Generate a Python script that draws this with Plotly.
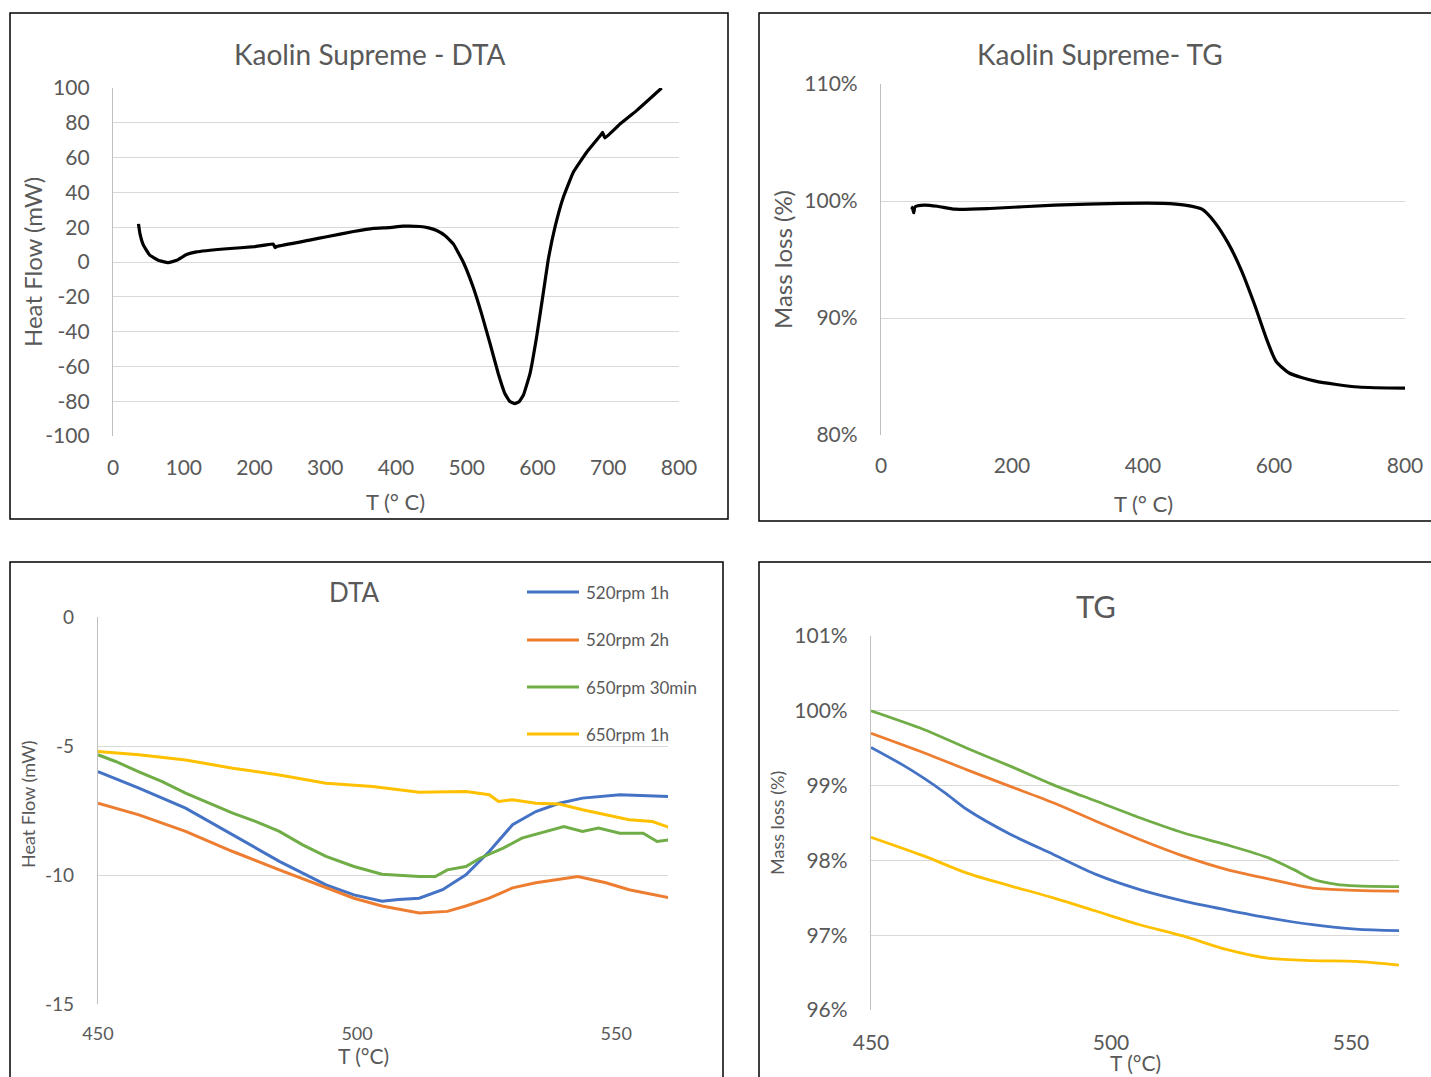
import plotly.graph_objects as go

W, H = 1431, 1077

# ---------------- Panel 1: Kaolin Supreme - DTA ----------------
dta_T = [36, 38, 43, 52, 64, 78, 90, 104, 118, 161, 200, 226.6, 229, 232, 278, 302, 340, 368, 390,
         410, 434, 446, 457.5, 470, 481, 495, 509, 521, 533, 544.6, 554, 561, 568, 574, 580, 589.4,
         598.8, 608, 615, 624.7, 636.5, 650.6, 669.5, 690.7, 692, 695.4, 716.6, 740, 775.5]
dta_HF = [21.9, 16.5, 9.7, 3.9, 1.0, -0.4, 1.0, 4.3, 5.8, 7.6, 8.8, 10.3, 8.3, 9.0, 12.6, 14.5, 17.5,
          19.3, 19.8, 20.6, 20.4, 19.6, 18.1, 15.0, 10.4, 0.0, -14.4, -29.8, -47.0, -64.2, -75.7, -80.2,
          -81.4, -80.3, -76.6, -64.2, -43.0, -18.3, 0.9, 20.0, 37.2, 51.6, 63.1, 73.6, 74.5, 71.3,
          79.3, 87.0, 100.0]

# ---------------- Panel 2: Kaolin Supreme - TG ----------------
tg_T = [46, 48, 50, 52, 66, 86, 113, 166, 265, 365, 431, 464, 490, 510, 530, 550, 570, 590, 603, 623,
        663, 729, 802]
tg_M = [99.5, 99.4, 99.0, 99.5, 99.65, 99.55, 99.3, 99.36, 99.65, 99.8, 99.8, 99.65, 99.3, 98.15,
        96.4, 94.1, 91.2, 88.0, 86.3, 85.3, 84.6, 84.1, 84.0]

# ---------------- Panel 3: DTA (zoom) ----------------
series_names = ["520rpm 1h", "520rpm 2h", "650rpm 30min", "650rpm 1h"]
series_colors = ["#4472C4", "#ED7D31", "#70AD47", "#FFC000"]

z_T_blue = [450, 457.9, 466.9, 476, 485, 494, 499.4, 504.8, 508, 512, 516.5, 521, 525.5, 530, 534.5,
            539, 543.5, 550.7, 555, 560.6]
z_HF_blue = [-5.99, -6.63, -7.41, -8.44, -9.47, -10.38, -10.77, -11.02, -10.95, -10.9, -10.57, -9.99,
             -9.09, -8.05, -7.54, -7.22, -7.02, -6.89, -6.92, -6.96]

z_T_orange = [450, 457.9, 466.9, 476, 485, 494, 499.4, 504.8, 512, 517.4, 521, 525.5, 530, 534.5, 539,
              542.6, 548, 552.5, 560.6]
z_HF_orange = [-7.22, -7.67, -8.31, -9.09, -9.8, -10.5, -10.9, -11.2, -11.47, -11.41, -11.2, -10.9,
               -10.5, -10.3, -10.18, -10.06, -10.3, -10.57, -10.9]

z_T_green = [450, 453.4, 457.9, 462.4, 466.9, 471.4, 476, 480.5, 485, 489.5, 494, 499.4, 504.8, 512,
             515.1, 517.4, 521, 523.7, 528.2, 531.8, 535.4, 539.9, 543.5, 546.6, 550.7, 555.2, 557.9,
             560.6]
z_HF_green = [-5.34, -5.6, -6.0, -6.38, -6.83, -7.22, -7.6, -7.93, -8.31, -8.83, -9.28, -9.67, -9.97,
              -10.06, -10.06, -9.8, -9.67, -9.35, -8.96, -8.57, -8.38, -8.12, -8.31, -8.18, -8.38,
              -8.38, -8.7, -8.63]

z_T_yellow = [450, 457.9, 466.9, 476, 485, 494, 503, 512, 521, 525.5, 527.3, 530, 534.5, 539, 543.5,
              548, 552.5, 557, 560.6]
z_HF_yellow = [-5.21, -5.34, -5.54, -5.86, -6.12, -6.44, -6.57, -6.79, -6.76, -6.89, -7.15, -7.08,
               -7.22, -7.25, -7.47, -7.67, -7.86, -7.93, -8.18]

# ---------------- Panel 4: TG (zoom) ----------------
g_T = [450, 461, 470, 479, 488, 497, 506, 515, 524, 533, 538, 542, 547, 551, 560]
g_green = [100.0, 99.75, 99.5, 99.26, 99.01, 98.79, 98.57, 98.37, 98.21, 98.03, 97.88, 97.75, 97.68,
           97.66, 97.65]
o_T = [450, 461, 470, 479, 488, 497, 506, 515, 524, 533, 542, 551, 560]
g_orange = [99.70, 99.44, 99.21, 98.99, 98.77, 98.52, 98.28, 98.06, 97.88, 97.75, 97.63, 97.6, 97.59]
b_T = [450, 456.5, 461, 465.5, 470, 479, 488, 497, 506, 515, 524, 533, 542, 551, 560]
g_blue = [99.51, 99.28, 99.10, 98.90, 98.68, 98.35, 98.08, 97.81, 97.61, 97.46, 97.34, 97.23, 97.14,
          97.08, 97.06]
y_T = [450, 461, 470, 479, 488, 497, 506, 515, 524, 533, 542, 551, 560]
g_yellow = [98.31, 98.06, 97.83, 97.66, 97.5, 97.32, 97.14, 96.99, 96.81, 96.69, 96.66, 96.65, 96.6]

FONT = "Lato"
GRAY = "#595959"
GRID = "#d9d9d9"
AXL = "#bfbfbf"


def px_x(px):
    return px / W


def px_y(py):
    return 1 - py / H


fig = go.Figure()

fig.add_trace(go.Scatter(x=dta_T, y=dta_HF, mode="lines",
                         line=dict(color="black", width=3.2, shape="spline", smoothing=0.3),
                         xaxis="x", yaxis="y", showlegend=False))
fig.add_trace(go.Scatter(x=tg_T, y=tg_M, mode="lines",
                         line=dict(color="black", width=3.2, shape="spline", smoothing=0.6),
                         xaxis="x2", yaxis="y2", showlegend=False))

dta_sets = [(z_T_blue, z_HF_blue), (z_T_orange, z_HF_orange), (z_T_green, z_HF_green), (z_T_yellow, z_HF_yellow)]
for (xs, ys), name, col in zip(dta_sets, series_names, series_colors):
    fig.add_trace(go.Scatter(x=xs, y=ys, mode="lines", name=name,
                             line=dict(color=col, width=3), xaxis="x3", yaxis="y3", showlegend=False))

tg_sets = [(b_T, g_blue), (o_T, g_orange), (g_T, g_green), (y_T, g_yellow)]
for (xs, ys), name, col in zip(tg_sets, series_names, series_colors):
    fig.add_trace(go.Scatter(x=xs, y=ys, mode="lines", name=name,
                             line=dict(color=col, width=2.8, shape="spline", smoothing=0.8),
                             xaxis="x4", yaxis="y4", showlegend=False))


def xax(domain, rng, tickvals, size, anchor, standoff):
    return dict(domain=domain, range=rng, tickvals=tickvals, ticktext=[str(v) for v in tickvals],
                showgrid=False, zeroline=False, showline=False, ticks="",
                tickfont=dict(family=FONT, size=size, color=GRAY), anchor=anchor,
                ticklabelstandoff=standoff, automargin=False)


def yax(domain, rng, tickvals, ticktext, size, anchor, standoff):
    return dict(domain=domain, range=rng, tickvals=tickvals, ticktext=ticktext,
                showgrid=True, gridcolor=GRID, gridwidth=1.3, zeroline=False,
                showline=True, linecolor=AXL, linewidth=1.3, ticks="",
                tickfont=dict(family=FONT, size=size, color=GRAY), anchor=anchor,
                ticklabelstandoff=standoff, automargin=False)


y1_vals = list(range(-100, 101, 20))
y3_vals = [0, -5, -10, -15]
y2_vals = [80, 90, 100, 110]
y4_vals = [96, 97, 98, 99, 100, 101]

fig.update_layout(
    width=W, height=H, margin=dict(l=0, r=0, t=0, b=0, pad=0, autoexpand=False),
    paper_bgcolor="white", plot_bgcolor="white", showlegend=False,
    xaxis=xax([px_x(113), px_x(679)], [0, 800], list(range(0, 801, 100)), 21, "y", 17),
    yaxis=yax([px_y(436), px_y(88)], [-100, 100], y1_vals, [str(v) for v in y1_vals], 21, "x", 18),
    xaxis2=xax([px_x(881), px_x(1405)], [0, 800], [0, 200, 400, 600, 800], 21, "y2", 16),
    yaxis2=yax([px_y(435), px_y(84)], [80, 110], y2_vals, [f"{v}%" for v in y2_vals], 21, "x2", 18),
    xaxis3=xax([px_x(98), px_x(668)], [450, 560], [450, 500, 550], 18, "y3", 17),
    yaxis3=yax([px_y(1004), px_y(617)], [-15, 0], y3_vals, [str(v) for v in y3_vals], 19, "x3", 19),
    xaxis4=xax([px_x(871), px_x(1399)], [450, 560], [450, 500, 550], 21, "y4", 18),
    yaxis4=yax([px_y(1010), px_y(636)], [96, 101], y4_vals, [f"{v}%" for v in y4_vals], 21, "x4", 18),
)

annos = [
    ("Kaolin Supreme - DTA", 369, 54, 28, 0),
    ("Kaolin Supreme- TG", 1100, 54, 28, 0),
    ("DTA", 354, 592, 26, 0),
    ("TG", 1096, 606, 31, 0),
    ("T (° C)", 395, 501, 22, 0),
    ("T (° C)", 1143, 503, 22, 0),
    ("T (°C)", 364, 1055, 21, 0),
    ("T (°C)", 1135, 1062, 21, 0),
    ("Heat Flow (mW)", 32, 262, 24, -90),
    ("Mass loss (%)", 782, 260, 24, -90),
    ("Heat Flow (mW)", 28, 804, 18, -90),
    ("Mass loss (%)", 777, 823, 18, -90),
]
for text, x, y, size, ang in annos:
    fig.add_annotation(text=text, x=px_x(x), y=px_y(y), xref="paper", yref="paper",
                       xanchor="center", yanchor="middle", showarrow=False, textangle=ang,
                       font=dict(family=FONT, size=size, color=GRAY))

# legend of the DTA zoom panel
legend_y = [592, 640, 687, 734]
for name, col, ly in zip(series_names, series_colors, legend_y):
    fig.add_shape(type="line", xref="paper", yref="paper", x0=px_x(527), x1=px_x(579),
                  y0=px_y(ly), y1=px_y(ly), line=dict(color=col, width=3.2))
    fig.add_annotation(text=name, x=px_x(584), y=px_y(ly), xref="paper", yref="paper",
                       xanchor="left", yanchor="middle", showarrow=False,
                       font=dict(family=FONT, size=17, color=GRAY))

borders = [(10, 13, 728, 519), (759, 13, 1445, 521), (10, 562, 723, 1090), (759, 562, 1445, 1090)]
for x0, y0, x1, y1 in borders:
    fig.add_shape(type="rect", xref="paper", yref="paper", x0=px_x(x0), x1=px_x(x1),
                  y0=px_y(y0), y1=px_y(y1), line=dict(color="black", width=1.5), layer="above")

fig.write_html("out.html")
